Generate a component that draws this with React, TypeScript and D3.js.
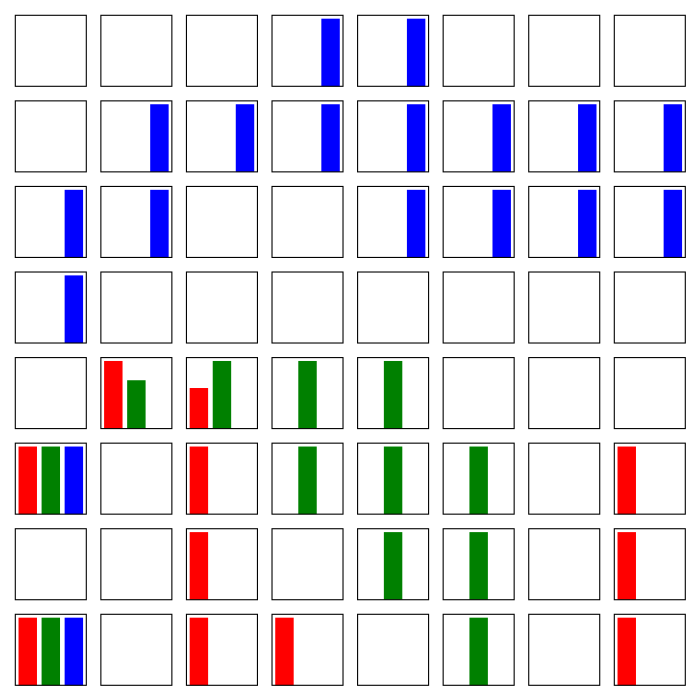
import React from "react";
import * as d3 from "d3";

const categories = ["red", "green", "blue"];
const colors = ["#ff0000", "#008000", "#0000ff"];

// 8x8 grid, row by row
const redValues = [
  [0, 0, 0, 0, 0, 0, 0, 0],
  [0, 0, 0, 0, 0, 0, 0, 0],
  [0, 0, 0, 0, 0, 0, 0, 0],
  [0, 0, 0, 0, 0, 0, 0, 0],
  [0, 1, 0.6, 0, 0, 0, 0, 0],
  [1, 0, 1, 0, 0, 0, 0, 1],
  [0, 0, 1, 0, 0, 0, 0, 1],
  [1, 0, 1, 1, 0, 0, 0, 1],
];
const greenValues = [
  [0, 0, 0, 0, 0, 0, 0, 0],
  [0, 0, 0, 0, 0, 0, 0, 0],
  [0, 0, 0, 0, 0, 0, 0, 0],
  [0, 0, 0, 0, 0, 0, 0, 0],
  [0, 0.715, 1, 1, 1, 0, 0, 0],
  [1, 0, 0, 1, 1, 1, 0, 0],
  [0, 0, 0, 0, 1, 1, 0, 0],
  [1, 0, 0, 0, 0, 1, 0, 0],
];
const blueValues = [
  [0, 0, 0, 1, 1, 0, 0, 0],
  [0, 1, 1, 1, 1, 1, 1, 1],
  [1, 1, 0, 0, 1, 1, 1, 1],
  [1, 0, 0, 0, 0, 0, 0, 0],
  [0, 0, 0, 0, 0, 0, 0, 0],
  [1, 0, 0, 0, 0, 0, 0, 0],
  [0, 0, 0, 0, 0, 0, 0, 0],
  [1, 0, 0, 0, 0, 0, 0, 0],
];

const W = 700;
const H = 700;
const gridLeft = 15.3;
const gridTop = 15.3;
const gridSize = 670;
const n = 8;
const panelSize = 71;

export default function App() {
  const outer = d3
    .scaleBand<number>()
    .domain(d3.range(n))
    .range([gridLeft, gridLeft + gridSize])
    .paddingInner((gridSize - n * panelSize) / 7 / ((gridSize - n * panelSize) / 7 + panelSize))
    .paddingOuter(0);

  const x = d3.scaleLinear().domain([-0.54, 2.54]).range([0, panelSize]);
  const barW = x(0.4) - x(-0.4);

  const panels: JSX.Element[] = [];
  for (let r = 0; r < n; r++) {
    for (let c = 0; c < n; c++) {
      const vals = [redValues[r][c], greenValues[r][c], blueValues[r][c]];
      const mx = d3.max(vals) || 1;
      const y = d3.scaleLinear().domain([0, mx * 1.05]).range([panelSize, 0]);
      const px = outer(c)!;
      const py = outer(r)!;
      panels.push(
        <g key={`${r}-${c}`} transform={`translate(${px},${py})`}>
          {vals.map((v, i) =>
            v > 0 ? (
              <rect
                key={categories[i]}
                x={x(i - 0.4)}
                y={y(v)}
                width={barW}
                height={y(0) - y(v)}
                fill={colors[i]}
              />
            ) : null
          )}
          <rect x={0} y={0} width={panelSize} height={panelSize} fill="none" stroke="#000" strokeWidth={1.1} />
        </g>
      );
    }
  }

  return (
    <svg width={W} height={H} style={{ position: "absolute", left: 0, top: 0, background: "#fff" }}>
      <rect width={W} height={H} fill="#fff" />
      {panels}
    </svg>
  );
}
